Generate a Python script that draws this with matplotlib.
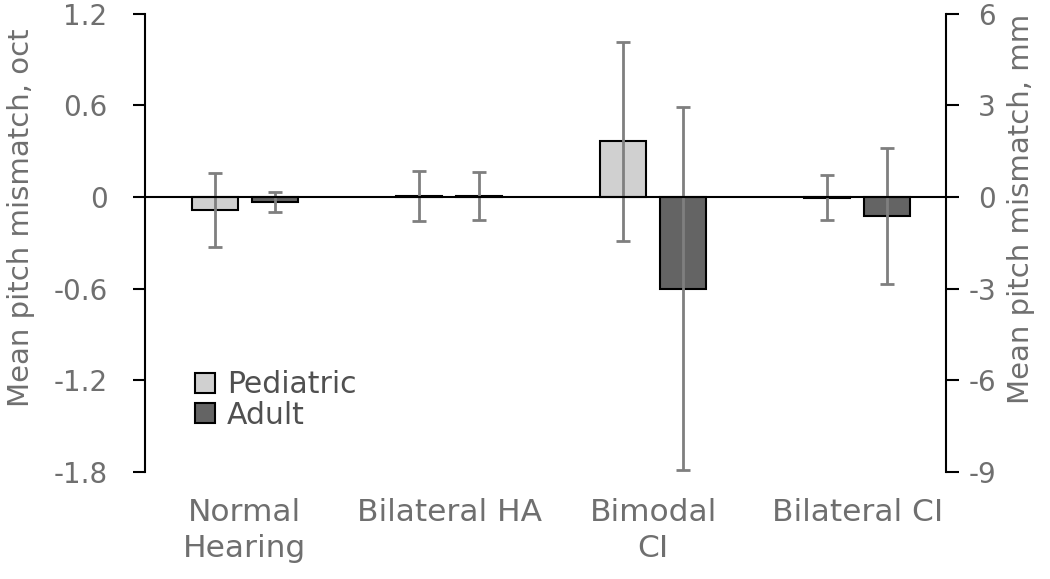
import numpy as np
import matplotlib
matplotlib.use('Agg')
import matplotlib.pyplot as plt

plt.rcParams['font.family'] = ['DejaVu Sans']

# values (octaves)
groups = ['Normal\nHearing', 'Bilateral HA', 'Bimodal\nCI', 'Bilateral CI']
pediatric = [-0.085, 0.007, 0.365, -0.003]
pediatric_err = [0.245, 0.163, 0.65, 0.147]
adult = [-0.033, 0.008, -0.60, -0.124]
adult_err = [0.065, 0.157, 1.19, 0.447]

oct_ticks = [1.2, 0.6, 0, -0.6, -1.2, -1.8]
mm_ticks = [6, 3, 0, -3, -6, -9]
mm_per_oct = 5

text_col = '#6f6f6f'
x = np.arange(len(groups))
w = 0.225
off = 0.147

fig = plt.figure(figsize=(10.5, 5.79), dpi=100)
ax = fig.add_axes([0.138, 0.185, 0.763, 0.791])

err_kw = dict(ecolor='#7f7f7f', elinewidth=2, capsize=5, capthick=2)
ax.bar(x - off, pediatric, w, yerr=pediatric_err, color='#d0d0d0',
       edgecolor='black', linewidth=1.5, error_kw=err_kw, label='Pediatric', zorder=2)
ax.bar(x + off, adult, w, yerr=adult_err, color='#646464',
       edgecolor='black', linewidth=1.5, error_kw=err_kw, label='Adult', zorder=2)

ax.axhline(0, color='black', linewidth=1.5, zorder=3)
ax.set_xlim(-0.49, 3.435)
ax.set_ylim(-1.8, 1.2)
ax.set_yticks(oct_ticks)
ax.set_yticklabels(['1.2', '0.6', '0', '-0.6', '-1.2', '-1.8'])
ax.set_xticks(x)
ax.set_xticklabels(groups, linespacing=1.3)
ax.tick_params(axis='x', length=0, pad=19, labelsize=22.5, labelcolor=text_col)
ax.tick_params(axis='y', direction='out', length=9, width=1.5, pad=18,
               labelsize=20, labelcolor=text_col)
for s in ['top', 'right', 'bottom']:
    ax.spines[s].set_visible(False)
ax.spines['left'].set_linewidth(1.5)
ax.set_ylabel('Mean pitch mismatch, oct', fontsize=21, color=text_col)
ax.yaxis.set_label_coords(-0.137, 0.555)

ax2 = ax.twinx()
ax2.set_ylim(-1.8 * mm_per_oct, 1.2 * mm_per_oct)
ax2.set_yticks(mm_ticks)
ax2.set_yticklabels([str(t) for t in mm_ticks])
for lab in ax2.get_yticklabels():
    lab.set_horizontalalignment('right')
ax2.tick_params(axis='y', direction='out', length=9, width=1.5, pad=27,
                labelsize=20, labelcolor=text_col)
for s in ['top', 'left', 'bottom']:
    ax2.spines[s].set_visible(False)
ax2.spines['right'].set_linewidth(1.5)
ax2.set_ylabel('Mean pitch mismatch, mm', fontsize=21, color=text_col, rotation=90)
ax2.yaxis.set_label_coords(1.076, 0.574)

leg = ax.legend(loc='upper left', bbox_to_anchor=(0.0624, 0.222), frameon=False,
                fontsize=21.5, handlelength=0.67, handleheight=0.67,
                handletextpad=0.4, labelspacing=0.05, borderaxespad=0,
                borderpad=0)
for t in leg.get_texts():
    t.set_color('#505050')

fig.savefig('out.png', dpi=100)
